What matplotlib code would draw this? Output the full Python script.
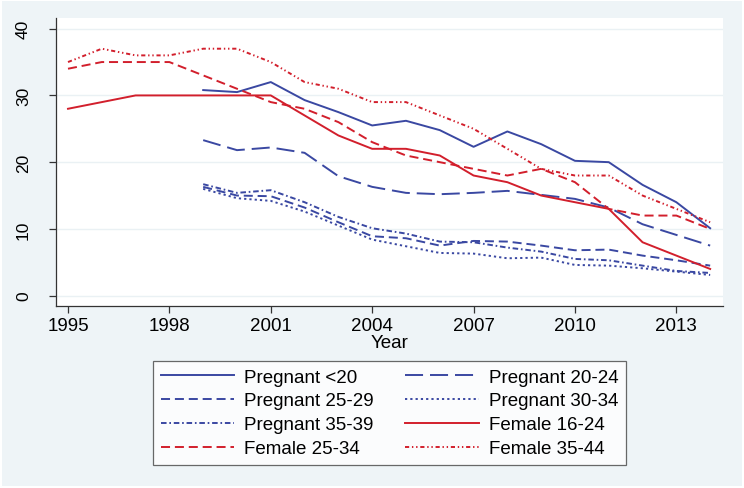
import matplotlib
matplotlib.use("Agg")
import matplotlib.pyplot as plt
from matplotlib.patches import Rectangle

plt.rcParams['font.family'] = ['Liberation Sans', 'DejaVu Sans']
plt.rcParams['lines.scale_dashes'] = False

years_all = list(range(1995, 2015))
years_preg = list(range(1999, 2015))

preg_u20 = [30.8, 30.5, 32.0, 29.3, 27.5, 25.5, 26.2, 24.8, 22.3, 24.6, 22.7, 20.2, 20.0, 16.6, 14.0, 10.1]
preg_20_24 = [23.3, 21.8, 22.2, 21.4, 17.9, 16.3, 15.4, 15.2, 15.4, 15.7, 15.1, 14.5, 13.2, 10.7, 9.1, 7.5]
preg_25_29 = [16.3, 15.0, 14.9, 13.2, 11.0, 8.9, 8.6, 7.5, 8.2, 8.1, 7.5, 6.8, 6.9, 6.0, 5.3, 4.5]
preg_30_34 = [16.0, 14.6, 14.2, 12.6, 10.5, 8.4, 7.4, 6.4, 6.3, 5.6, 5.7, 4.6, 4.5, 4.1, 3.6, 3.1]
preg_35_39 = [16.7, 15.4, 15.8, 14.0, 11.8, 10.1, 9.3, 8.1, 8.0, 7.2, 6.6, 5.5, 5.3, 4.5, 3.7, 3.4]
fem_16_24 = [28, 29, 30, 30, 30, 30, 30, 27, 24, 22, 22, 21, 18, 17, 15, 14, 13, 8, 6, 4]
fem_25_34 = [34, 35, 35, 35, 33, 31, 29, 28, 26, 23, 21, 20, 19, 18, 19, 17, 13, 12, 12, 10]
fem_35_44 = [35, 37, 36, 36, 37, 37, 35, 32, 31, 29, 29, 27, 25, 22, 19, 18, 18, 15, 13, 11]

xticks = [1995, 1998, 2001, 2004, 2007, 2010, 2013]
yticks = [0, 10, 20, 30, 40]

blue = '#3a48a2'
red = '#d21f2c'
bg = '#eef4f7'

fig = plt.figure(figsize=(7.44, 4.89), dpi=100, facecolor='white')
fig.patches.append(Rectangle((2/744, 2/489), 740/744, 485/489, transform=fig.transFigure,
                             facecolor=bg, edgecolor='none', zorder=-10))
ax = fig.add_axes([56/744, (489-307)/489, (723-56)/744, (307-19)/489])
ax.set_facecolor('white')

lw = 1.4
series = [
    ("Pregnant <20", years_preg, preg_u20, blue, '-'),
    ("Pregnant 20-24", years_preg, preg_20_24, blue, (0, (13, 5))),
    ("Pregnant 25-29", years_preg, preg_25_29, blue, (0, (6.5, 3.5))),
    ("Pregnant 30-34", years_preg, preg_30_34, blue, (0, (1.6, 2.2))),
    ("Pregnant 35-39", years_preg, preg_35_39, blue, (0, (4, 2, 1.2, 2))),
    ("Female 16-24", years_all, fem_16_24, red, '-'),
    ("Female 25-34", years_all, fem_25_34, red, (0, (6.5, 3.5))),
    ("Female 35-44", years_all, fem_35_44, red, (0, (3, 2, 1, 2, 1, 2))),
]
handles = {}
for name, xs, ys, c, ls in series:
    h, = ax.plot(xs, ys, color=c, linestyle=ls, linewidth=lw, label=name)
    handles[name] = h

ax.set_xlim(1994.645, 2014.38)
ax.set_ylim(-1.55, 41.6)
ax.set_xticks(xticks)
ax.set_yticks(yticks)
ax.grid(axis='y', color='#eaf1f4', linewidth=1.0)
ax.set_axisbelow(True)
for s in ['top', 'right']:
    ax.spines[s].set_visible(False)
for s in ['left', 'bottom']:
    ax.spines[s].set_color('#333333')
    ax.spines[s].set_linewidth(0.9)
ax.tick_params(axis='x', direction='out', length=5, width=0.9, color='#333333',
               labelsize=13.5, pad=3)
ax.tick_params(axis='y', direction='out', length=5, width=0.9, color='#333333',
               labelsize=12.5, pad=13)
for lab in ax.get_yticklabels():
    lab.set_rotation(90)
    lab.set_va('center')
ax.set_xlabel("Year", fontsize=13.5, labelpad=0)

order = ["Pregnant <20", "Pregnant 25-29", "Pregnant 35-39", "Female 25-34",
         "Pregnant 20-24", "Pregnant 30-34", "Female 16-24", "Female 35-44"]
leg = fig.legend([handles[n] for n in order], order, ncol=2, loc='upper left',
                 bbox_to_anchor=(153/744, (489-362)/489, (626-153)/744, 0),
                 mode='expand', fontsize=13.5, frameon=True, fancybox=False,
                 handlelength=3.9, handletextpad=0.55, columnspacing=1.6,
                 labelspacing=0.36, borderpad=0.4, borderaxespad=0)
leg.get_frame().set_edgecolor('#444444')
leg.get_frame().set_linewidth(0.9)
leg.get_frame().set_facecolor('white')

fig.savefig("out.png", dpi=100, facecolor='white')
